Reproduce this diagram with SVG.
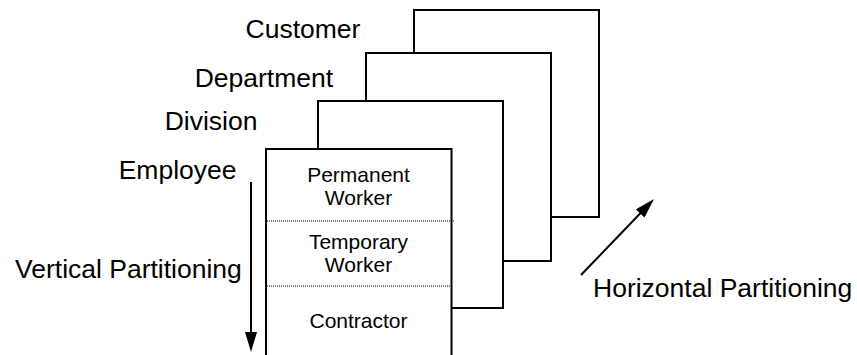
<svg xmlns="http://www.w3.org/2000/svg" width="857" height="355" viewBox="0 0 857 355">
<style>
.box{fill:#fff;stroke:#000;stroke-width:2}
.lbl{font-family:"Liberation Sans",Arial,sans-serif;font-size:26.5px;fill:#000}
.in{font-family:"Liberation Sans",Arial,sans-serif;font-size:21px;fill:#000;text-anchor:middle}
.dot{stroke:#000;stroke-width:1;stroke-dasharray:1 1;fill:none}
.conn{stroke:#000;stroke-width:2;fill:none;marker-end:url(#ah)}
</style>
<defs>
<marker id="ah" markerUnits="userSpaceOnUse" markerWidth="20" markerHeight="12" refX="10" refY="6" orient="auto">
<path d="M0,0 L20,6 L0,12 z" fill="#000"/>
</marker>
</defs>
<rect width="857" height="355" fill="#fff"/>
<g id="customer">
<rect class="box" x="414" y="10" width="185" height="207"/>
<text class="lbl" x="245.5" y="38">Customer</text>
</g>
<g id="department">
<rect class="box" x="366" y="53" width="185" height="208"/>
<text class="lbl" x="194.7" y="87">Department</text>
</g>
<g id="division">
<rect class="box" x="318" y="101" width="185" height="207"/>
<text class="lbl" x="164.7" y="130">Division</text>
</g>
<g id="employee">
<rect class="box" x="266" y="149" width="185.5" height="220"/>
<text class="lbl" x="118.7" y="179">Employee</text>
<line class="dot" x1="267" y1="221" x2="454" y2="221"/>
<line class="dot" x1="267" y1="286" x2="451" y2="286"/>
<text class="in" x="358.5" y="182">Permanent</text>
<text class="in" x="358.5" y="205">Worker</text>
<text class="in" x="358.5" y="249">Temporary</text>
<text class="in" x="358.5" y="272">Worker</text>
<text class="in" x="358.5" y="328">Contractor</text>
</g>
<g id="labels">
<text class="lbl" x="15" y="278">Vertical Partitioning</text>
<text class="lbl" x="593" y="297">Horizontal Partitioning</text>
</g>
<g id="connectors">
<line class="conn" x1="251" y1="182" x2="251" y2="342"/>
<line class="conn" x1="581" y1="275" x2="647.1" y2="206.2"/>
</g>
</svg>
